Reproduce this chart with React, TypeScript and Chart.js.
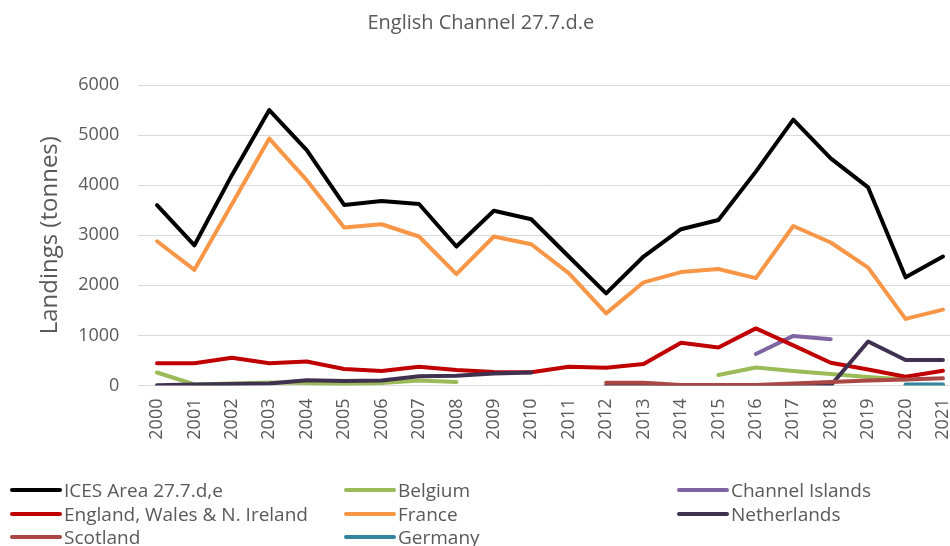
import React, { useEffect, useRef } from "react";
import { Chart, registerables } from "chart.js";

Chart.register(...registerables);

const years = [
  "2000", "2001", "2002", "2003", "2004", "2005", "2006", "2007", "2008", "2009", "2010",
  "2011", "2012", "2013", "2014", "2015", "2016", "2017", "2018", "2019", "2020", "2021",
];

const icesArea = [3600, 2800, 4200, 5500, 4700, 3605, 3685, 3625, 2775, 3490, 3320, 2575, 1840, 2575, 3120, 3305, 4270, 5310, 4535, 3955, 2160, 2575];
const belgium = [260, 20, 40, 60, 50, 30, 50, 100, 70, null, null, null, null, null, null, 210, 360, 290, 230, 170, 120, null];
const channelIslands = [null, null, null, null, null, null, null, null, null, null, null, null, null, null, null, null, 630, 990, 925, null, null, null];
const england = [445, 445, 555, 445, 480, 330, 290, 375, 310, 270, 263, 375, 355, 430, 855, 760, 1140, 800, 455, 320, 175, 295];
const france = [2880, 2310, 3620, 4930, 4100, 3155, 3220, 2975, 2225, 2975, 2820, 2245, 1440, 2060, 2265, 2325, 2145, 3185, 2855, 2355, 1330, 1515];
const netherlands = [5, 20, 30, 40, 105, 90, 100, 185, 195, 240, 262, null, 0, 0, 0, 0, 0, 0, 0, 880, 510, 510];
const scotland = [null, null, null, null, null, null, null, null, null, null, null, null, 57, 55, 10, 10, 10, 40, 70, 100, 120, 145];
const germany = [null, null, null, null, null, null, null, null, null, null, null, null, null, null, null, null, null, null, null, null, 20, 20];

const seriesNames = [
  "ICES Area 27.7.d,e",
  "Belgium",
  "Channel Islands",
  "England, Wales & N. Ireland",
  "France",
  "Netherlands",
  "Scotland",
  "Germany",
];
const seriesData = [icesArea, belgium, channelIslands, england, france, netherlands, scotland, germany];
const seriesColors = ["#000000", "#9BBB59", "#8064A2", "#C00000", "#F79646", "#403151", "#AA4643", "#31859C"];

const yTicks = [0, 1000, 2000, 3000, 4000, 5000, 6000];

const TEXT = "#595959";
const FONT = "'Open Sans', 'DejaVu Sans', sans-serif";

export default function App() {
  const ref = useRef<HTMLCanvasElement | null>(null);

  useEffect(() => {
    if (!ref.current) return;
    const chart = new Chart(ref.current, {
      type: "line",
      data: {
        labels: years,
        datasets: seriesNames.map((name, i) => ({
          label: name,
          data: seriesData[i],
          borderColor: seriesColors[i],
          backgroundColor: seriesColors[i],
          borderWidth: 4,
          pointRadius: 0,
          pointHoverRadius: 0,
          tension: 0,
          spanGaps: false,
          borderCapStyle: "round",
          borderJoinStyle: "round",
          order: seriesNames.length - i,
        })),
      },
      options: {
        animation: false,
        responsive: false,
        devicePixelRatio: 1,
        layout: { padding: { left: 0, right: 18.3, top: 0, bottom: 0 } },
        plugins: {
          legend: { display: false },
          tooltip: { enabled: false },
          title: {
            display: true,
            text: "English Channel 27.7.d.e",
            color: TEXT,
            font: { family: FONT, size: 20, weight: "normal" },
            padding: { top: 11, bottom: 50 },
          },
        },
        scales: {
          x: {
            type: "category",
            offset: true,
            grid: { display: false, drawTicks: false },
            border: { display: false },
            ticks: {
              color: TEXT,
              font: { family: FONT, size: 18 },
              minRotation: 90,
              maxRotation: 90,
              autoSkip: false,
              padding: 13,
            },
            afterFit: (scale: any) => {
              scale.height = 546 - 385.5;
            },
          },
          y: {
            min: 0,
            max: 6000,
            grid: { color: "#D9D9D9", lineWidth: 1, drawTicks: false },
            border: { display: false },
            ticks: {
              stepSize: 1000,
              color: TEXT,
              font: { family: FONT, size: 18 },
              padding: 19,
              callback: (v: any) => (yTicks.includes(Number(v)) ? String(v) : ""),
            },
            title: {
              display: true,
              text: "Landings (tonnes)",
              color: TEXT,
              font: { family: FONT, size: 24, weight: "normal" },
              padding: { top: 36, bottom: 0 },
            },
            afterFit: (scale: any) => {
              scale.width = 138.3;
            },
          },
        },
      },
    });
    return () => chart.destroy();
  }, []);

  const colX = [10, 344, 677];
  const rowY = [490, 513.7, 537.4];

  return (
    <div
      style={{
        position: "fixed",
        left: 0,
        top: 0,
        width: 950,
        height: 546,
        overflow: "hidden",
        background: "#ffffff",
      }}
    >
      <canvas ref={ref} width={980} height={546} style={{ position: "absolute", left: 0, top: 0, width: 980, height: 546 }} />
      {seriesNames.map((name, i) => {
        const row = Math.floor(i / 3);
        const col = i % 3;
        const cy = rowY[row];
        return (
          <div key={name}>
            <div
              style={{
                position: "absolute",
                left: colX[col],
                top: cy - 2,
                width: 52,
                height: 4,
                borderRadius: 2,
                background: seriesColors[i],
              }}
            />
            <div
              style={{
                position: "absolute",
                left: colX[col] + 54,
                top: cy - 12,
                height: 24,
                lineHeight: "24px",
                fontFamily: FONT,
                fontSize: 19,
                color: TEXT,
                whiteSpace: "nowrap",
              }}
            >
              {name}
            </div>
          </div>
        );
      })}
    </div>
  );
}
